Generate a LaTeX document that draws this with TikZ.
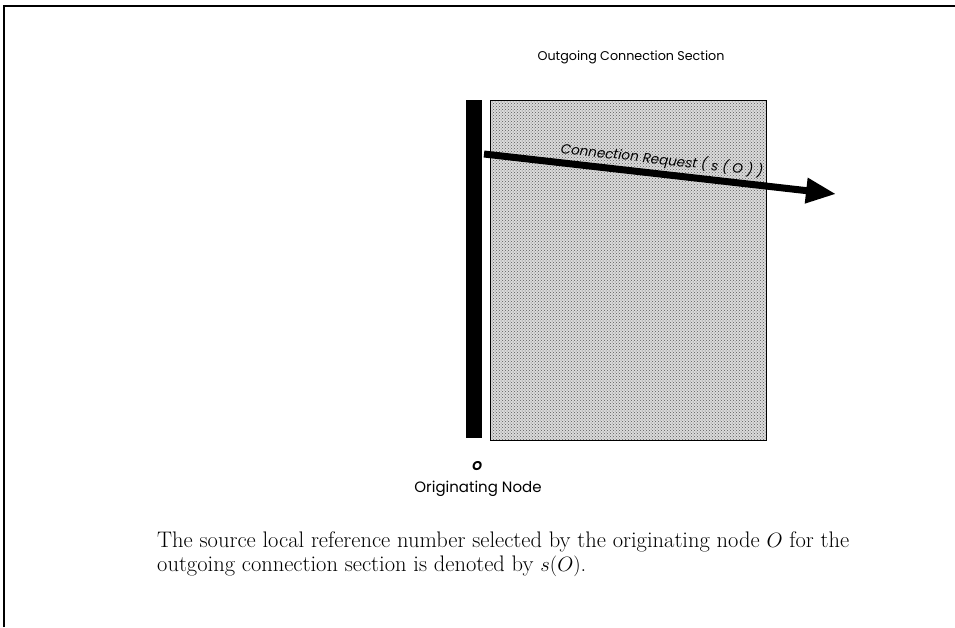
\documentclass[tikz,border=0pt]{standalone}
\usepackage{fontspec}
\newfontfamily\geo{Poppins}
\usetikzlibrary{arrows.meta,patterns}
\tikzset{
  frameline/.style={line width=1.4pt,black},
  nodebar/.style={fill=black,draw=none},
  sectionbox/.style={draw=black,line width=0.6pt,pattern=crosshatch dots,pattern color=gray!70!black},
  flowarrow/.style={line width=7pt,-{Triangle[length=30pt,width=24pt]}},
  sanslabel/.style={font=\geo\fontsize{12.7}{15}\selectfont,inner sep=0pt},
  caption/.style={font=\fontsize{22.5}{24}\selectfont,align=left,inner sep=0pt,anchor=north west}
}
\begin{document}
\begin{tikzpicture}[x=1pt,y=-1pt]
\useasboundingbox (0,0) rectangle (955,627);
% page frame (top and left edges)
\draw[frameline] (4,627) -- (4,6) -- (955,6);
% section area
\fill[gray!28] (490,100) rectangle (766,440);
\node[sectionbox,minimum width=276pt,minimum height=340pt,anchor=north west,inner sep=0pt] (sec) at (490,100) {};
% originating node bar
\node[nodebar,minimum width=16pt,minimum height=338pt,anchor=north west,inner sep=0pt] (bar) at (466,100) {};
% request arrow
\coordinate (src) at (484,154);
\coordinate (dst) at (836,194);
\draw[flowarrow] (src) -- (dst);
\node[sanslabel,font=\geo\fontsize{13.5}{15}\selectfont,rotate=-6.5] (req) at (662,160) {\itshape Connection Request ( s ( O ) )};
% labels
\node[sanslabel] (title) at (631,57) {Outgoing Connection Section};
\node[sanslabel,font=\geo\bfseries\fontsize{12.7}{15}\selectfont] (o) at (477,466) {\itshape O};
\node[sanslabel,font=\geo\fontsize{15}{17}\selectfont] (orig) at (478,489) {Originating Node};
\node[caption] (cap) at (157,531) {The source local reference number selected by the originating node $O$ for the\\outgoing connection section is denoted by $s(O)$.};
\end{tikzpicture}
\end{document}
